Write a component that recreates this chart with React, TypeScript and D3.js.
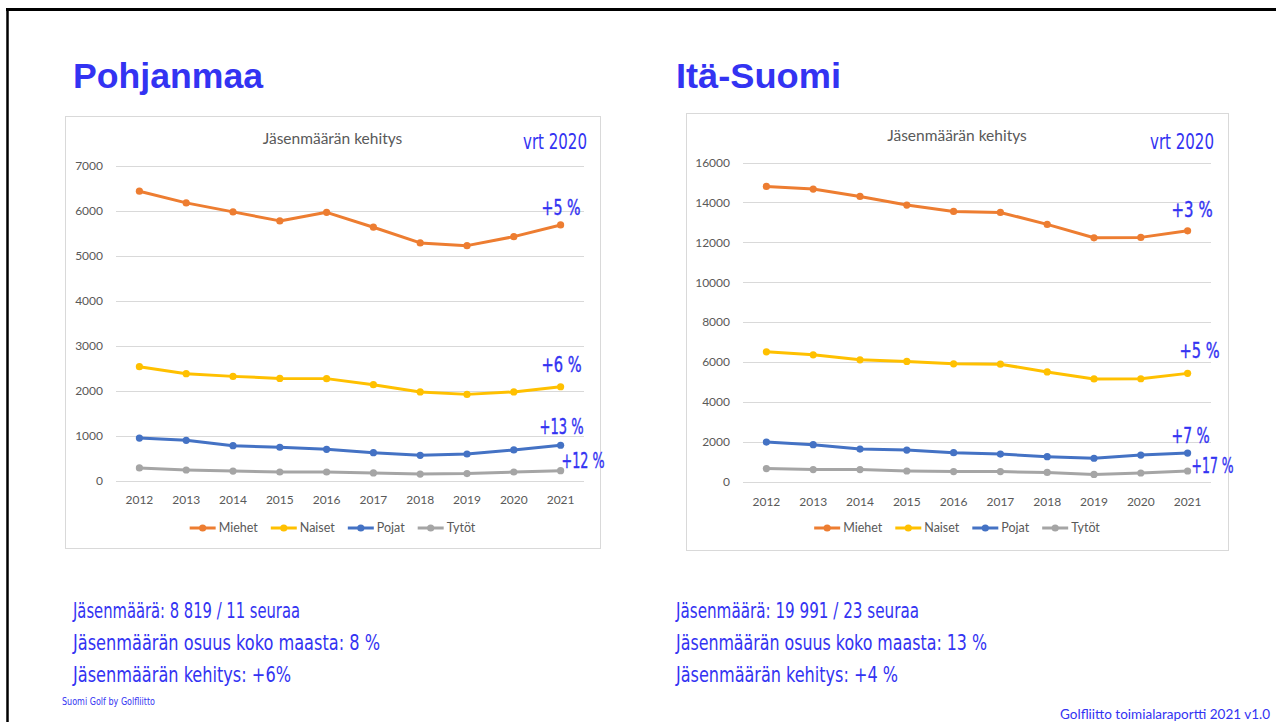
import React from "react";
import * as d3 from "d3";

const years = [2012, 2013, 2014, 2015, 2016, 2017, 2018, 2019, 2020, 2021];
const seriesNames = ["Miehet", "Naiset", "Pojat", "Tytöt"];
const seriesColors = ["#ED7D31", "#FFC000", "#4472C4", "#A5A5A5"];

// Pohjanmaa
const pohjMiehet = [6440, 6180, 5980, 5780, 5970, 5640, 5290, 5230, 5430, 5690];
const pohjNaiset = [2540, 2385, 2325, 2280, 2275, 2140, 1980, 1925, 1980, 2095];
const pohjPojat = [955, 905, 785, 750, 705, 630, 570, 600, 690, 795];
const pohjTytot = [290, 245, 220, 200, 200, 180, 155, 165, 200, 230];
const pohjNotes = ["+5 %", "+6 %", "+13 %", "+12 %"];
const pohjFacts = [
  "Jäsenmäärä: 8 819 / 11 seuraa",
  "Jäsenmäärän osuus koko maasta: 8 %",
  "Jäsenmäärän kehitys: +6%",
];

// Itä-Suomi
const itaMiehet = [14800, 14670, 14300, 13870, 13550, 13500, 12900, 12230, 12250, 12580];
const itaNaiset = [6520, 6370, 6120, 6040, 5920, 5900, 5510, 5160, 5170, 5440];
const itaPojat = [2000, 1870, 1650, 1600, 1470, 1400, 1270, 1190, 1350, 1450];
const itaTytot = [670, 620, 620, 550, 520, 520, 480, 380, 450, 550];
const itaNotes = ["+3 %", "+5 %", "+7 %", "+17 %"];
const itaFacts = [
  "Jäsenmäärä: 19 991 / 23 seuraa",
  "Jäsenmäärän osuus koko maasta: 13 %",
  "Jäsenmäärän kehitys: +4 %",
];

const BLUE = "#3333F2";
const GRAY_TXT = "#595959";
const CHART_FONT = "Lato, 'Open Sans', sans-serif";
const NARROW = "'Liberation Sans Narrow', 'DejaVu Sans Condensed', 'Roboto Condensed', sans-serif";

let measureCtx: CanvasRenderingContext2D | null = null;
function textWidth(s: string, font: string) {
  if (!measureCtx) measureCtx = document.createElement("canvas").getContext("2d");
  if (!measureCtx) return s.length * 6;
  measureCtx.font = font;
  return measureCtx.measureText(s).width;
}

type PanelProps = {
  heading: string;
  headingX: number;
  headingW: number;
  box: number[]; // x0, y0, x1, y1
  plotX: number[];
  plotY: number[]; // y of 0, y of yMax
  yMax: number;
  yStep: number;
  titleY: number;
  axisY: number;
  legendY: number;
  data: number[][];
  notes: string[];
  noteDx: number[];
  noteDy: number[];
  noteW: number[];
  facts: string[];
  factW: number[];
};

function Panel(p: PanelProps) {
  const [bx0, by0, bx1, by1] = p.box;
  const x = d3.scalePoint<number>().domain(years).range([p.plotX[0], p.plotX[1]]).padding(0.5);
  const y = d3.scaleLinear().domain([0, p.yMax]).range([p.plotY[0], p.plotY[1]]);
  const ticks = d3.range(0, p.yMax + 1, p.yStep);
  const line = d3
    .line<number>()
    .x((_, i) => x(years[i]) as number)
    .y((v) => y(v));

  // legend layout, centered in the box
  const legFont = `12.5px ${CHART_FONT}`;
  const lineLen = 26;
  const gapTxt = 3;
  const gapItem = 13;
  const itemW = seriesNames.map((n) => lineLen + gapTxt + textWidth(n, legFont));
  const totalW = d3.sum(itemW) + gapItem * (seriesNames.length - 1);
  let lx = (bx0 + bx1) / 2 - totalW / 2;
  const legendPos = itemW.map((w) => {
    const s = lx;
    lx += w + gapItem;
    return s;
  });

  const lastX = x(years[years.length - 1]) as number;

  return (
    <g>
      <text
        x={p.headingX}
        y={88}
        fill={BLUE}
        fontFamily="'Liberation Sans', Arial, sans-serif"
        fontWeight="bold"
        fontSize={35}
        textLength={p.headingW}
        lengthAdjust="spacingAndGlyphs"
      >
        {p.heading}
      </text>

      <rect x={bx0 + 0.5} y={by0 + 0.5} width={bx1 - bx0} height={by1 - by0} fill="#fff" stroke="#D9D9D9" />

      <text
        x={(bx0 + bx1) / 2}
        y={p.titleY}
        textAnchor="middle"
        fill={GRAY_TXT}
        fontFamily={CHART_FONT}
        fontSize={15.5}
      >
        Jäsenmäärän kehitys
      </text>

      <text
        x={p.plotX[1] + 3 - 64}
        y={149}
        fill={BLUE}
        fontFamily={NARROW}
        fontSize={21}
        textLength={64}
        lengthAdjust="spacingAndGlyphs"
      >
        vrt 2020
      </text>

      {ticks.map((t) => (
        <g key={t}>
          <line x1={p.plotX[0]} x2={p.plotX[1]} y1={Math.round(y(t)) + 0.5} y2={Math.round(y(t)) + 0.5} stroke="#D9D9D9" />
          <text
            x={p.plotX[0] - 13}
            y={y(t)}
            dy="0.35em"
            textAnchor="end"
            fill={GRAY_TXT}
            fontFamily={CHART_FONT}
            fontSize={12}
          >
            {t}
          </text>
        </g>
      ))}

      {years.map((yr) => (
        <text
          key={yr}
          x={x(yr)}
          y={p.axisY}
          textAnchor="middle"
          fill={GRAY_TXT}
          fontFamily={CHART_FONT}
          fontSize={12}
        >
          {yr}
        </text>
      ))}

      {p.data
        .map((vals, si) => (
          <g key={si}>
            <path d={line(vals) || ""} fill="none" stroke={seriesColors[si]} strokeWidth={3} strokeLinejoin="round" />
            {vals.map((v, i) => (
              <circle key={i} cx={x(years[i])} cy={y(v)} r={3.6} fill={seriesColors[si]} />
            ))}
          </g>
        ))
        .reverse()}

      {p.notes.map((n, i) => {
        const last = p.data[i][p.data[i].length - 1];
        return (
          <text
            key={n + i}
            x={lastX + p.noteDx[i]}
            y={y(last) + p.noteDy[i]}
            fill={BLUE}
            fontFamily={NARROW}
            fontSize={21}
            stroke={BLUE}
            strokeWidth={0.4}
            textLength={p.noteW[i]}
            lengthAdjust="spacingAndGlyphs"
          >
            {n}
          </text>
        );
      })}

      {seriesNames.map((n, i) => (
        <g key={n} transform={`translate(${legendPos[i]},${p.legendY})`}>
          <line x1={0} x2={lineLen} y1={0} y2={0} stroke={seriesColors[i]} strokeWidth={3} />
          <circle cx={lineLen / 2} cy={0} r={3.6} fill={seriesColors[i]} />
          <text x={lineLen + gapTxt} y={0} dy="0.35em" fill={GRAY_TXT} fontFamily={CHART_FONT} fontSize={12.5}>
            {n}
          </text>
        </g>
      ))}

      {p.facts.map((f, i) => (
        <text
          key={f}
          x={p.headingX}
          y={618 + i * 32}
          fill={BLUE}
          fontFamily={NARROW}
          fontSize={22}
          textLength={p.factW[i]}
          lengthAdjust="spacingAndGlyphs"
        >
          {f}
        </text>
      ))}
    </g>
  );
}

export default function App() {
  return (
    <div style={{ position: "absolute", left: 0, top: 0, width: 1276, height: 722, background: "#fff" }}>
      <svg width={1276} height={722} viewBox="0 0 1276 722" style={{ display: "block" }}>
        <rect x={0} y={0} width={1276} height={722} fill="#fff" />
        <line x1={6} x2={1276} y1={9.5} y2={9.5} stroke="#000" strokeWidth={3} />
        <line x1={7.5} x2={7.5} y1={8} y2={722} stroke="#000" strokeWidth={2.5} />

        <Panel
          heading="Pohjanmaa"
          headingX={73}
          headingW={190}
          box={[65, 116, 600, 548]}
          plotX={[116, 584]}
          plotY={[481, 166]}
          yMax={7000}
          yStep={1000}
          titleY={144}
          axisY={504}
          legendY={528}
          data={[pohjMiehet, pohjNaiset, pohjPojat, pohjTytot]}
          notes={pohjNotes}
          noteDx={[-19, -19, -21, 1]}
          noteDy={[-10, -15, -11, -3]}
          noteW={[39, 40, 44, 43]}
          facts={pohjFacts}
          factW={[227, 307, 218]}
        />
        <Panel
          heading="Itä-Suomi"
          headingX={676}
          headingW={165}
          box={[686, 113, 1228, 550]}
          plotX={[743, 1211]}
          plotY={[482, 162.5]}
          yMax={16000}
          yStep={2000}
          titleY={141}
          axisY={506}
          legendY={528}
          data={[itaMiehet, itaNaiset, itaPojat, itaTytot]}
          notes={itaNotes}
          noteDx={[-16, -8, -16, 4]}
          noteDy={[-14, -15, -10, 2]}
          noteW={[41, 40, 38, 42]}
          facts={itaFacts}
          factW={[243, 311, 222]}
        />

        <text x={62} y={705} fill={BLUE} fontFamily={NARROW} fontSize={10} textLength={93} lengthAdjust="spacingAndGlyphs">
          Suomi Golf by Golfliitto
        </text>
        <text
          x={1270}
          y={719}
          textAnchor="end"
          fill={BLUE}
          fontFamily={CHART_FONT}
          fontSize={12.5}
          textLength={210}
          lengthAdjust="spacingAndGlyphs"
        >
          Golfliitto toimialaraportti 2021 v1.0
        </text>
      </svg>
    </div>
  );
}
